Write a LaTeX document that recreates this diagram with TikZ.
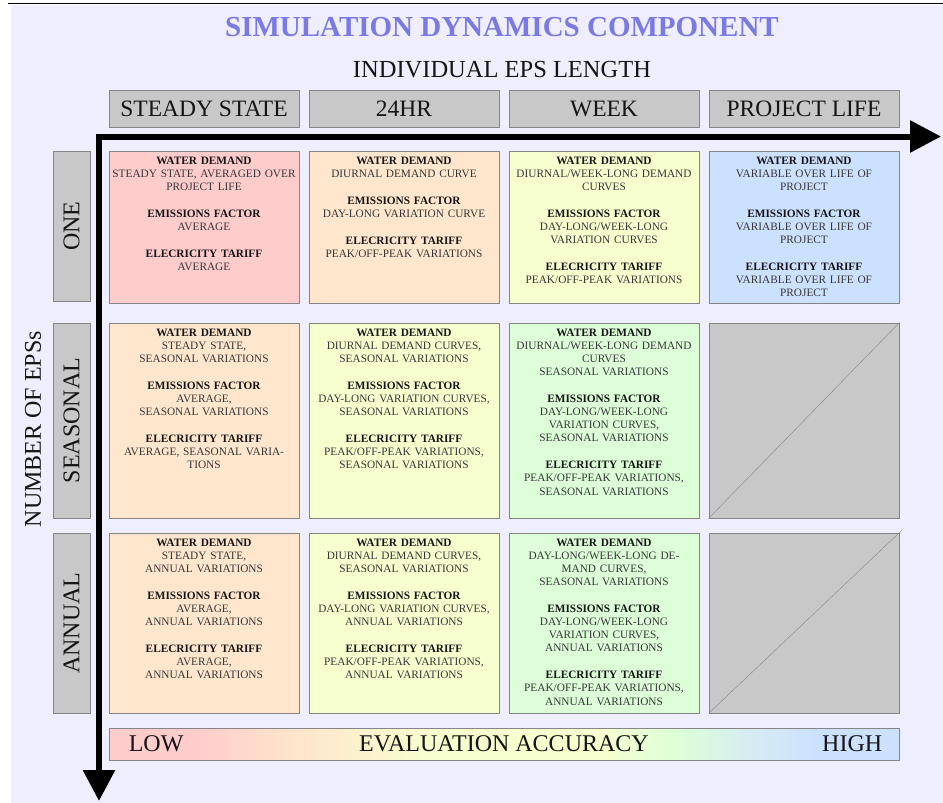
\documentclass[tikz,border=0pt]{standalone}
\usepackage{fontspec}
\setmainfont{Liberation Serif}
\usetikzlibrary{arrows.meta}

\definecolor{bgc}{HTML}{EEEEFF}
\definecolor{titlec}{HTML}{7A7AE2}
\definecolor{edgec}{HTML}{858585}
\definecolor{grayc}{HTML}{C8C8C8}
\definecolor{pinkc}{HTML}{FFCCCC}
\definecolor{peachc}{HTML}{FFE6CC}
\definecolor{yellowc}{HTML}{F8FFCF}
\definecolor{greenc}{HTML}{DCFFD8}
\definecolor{bluec}{HTML}{CCE0FF}
\definecolor{cyanc}{HTML}{D6ECF2}
\definecolor{bodyc}{HTML}{363636}
\definecolor{headc}{HTML}{151515}

% colour ramp of the accuracy bar (visible part runs from 25bp to 75bp)
\pgfdeclarehorizontalshading{accuracy}{100bp}{%
  color(0bp)=(pinkc); color(25bp)=(pinkc); color(30.5bp)=(pinkc); color(37bp)=(peachc);
  color(45.5bp)=(yellowc); color(56bp)=(yellowc); color(61bp)=(greenc);
  color(65.5bp)=(cyanc); color(70bp)=(bluec); color(75bp)=(bluec); color(100bp)=(bluec)}

\newcommand\hd[1]{\textbf{\textcolor{headc}{#1}}}

\tikzset{
  cellbox/.style={draw=edgec, line width=0.8pt, minimum width=190pt, inner sep=0pt},
  celltext/.style={anchor=north, inner sep=0pt, align=center, text width=190pt,
    font=\fontsize{11.3}{13.1}\selectfont, text=bodyc},
  hdrbox/.style={draw=edgec, line width=0.8pt, fill=grayc, minimum width=190pt,
    minimum height=37pt, inner sep=0pt, font=\fontsize{23.5}{26}\selectfont, text=headc},
  rowlbl/.style={draw=edgec, line width=0.8pt, fill=grayc, rotate=90,
    minimum height=37pt, inner sep=0pt, font=\fontsize{24}{26}\selectfont, text=headc},
  axisarrow/.style={line width=6pt, line cap=butt, -{Triangle[length=31pt,width=31pt]}},
  bigtext/.style={font=\fontsize{24}{26}\selectfont, text=headc, inner sep=0pt},
  blank/.style={draw=edgec, thin}
}

\begin{document}
\begin{tikzpicture}[x=1pt, y=-1pt]
  \useasboundingbox (0,0) rectangle (943,803);
  \fill[white] (0,0) rectangle (943,803);
  \fill[bgc] (11,4.5) rectangle (943,803);
  \draw[line width=1.5pt] (8,3.5) -- (943,3.5);

  % titles
  \node[font=\bfseries\fontsize{29}{32}\selectfont, text=titlec] (title) at (502,27) {SIMULATION DYNAMICS COMPONENT};
  \node[bigtext, font=\fontsize{24.5}{26}\selectfont] (sub) at (502,70) {INDIVIDUAL EPS LENGTH};

  % column headers
  \node[hdrbox] (h1) at (204,108.5) {STEADY STATE};
  \node[hdrbox] (h2) at (404,108.5) {24HR};
  \node[hdrbox] (h3) at (604,108.5) {WEEK};
  \node[hdrbox] (h4) at (804,108.5) {PROJECT LIFE};

  % axes
  \coordinate (xstart) at (96,136.5);
  \coordinate (xend) at (941,136.5);
  \coordinate (ystart) at (99,133.5);
  \coordinate (yend) at (99,801);
  \draw[axisarrow] (xstart) -- (xend);
  \draw[axisarrow] (ystart) -- (yend);

  % row labels
  \node[rowlbl, minimum width=150pt] (r1) at (71.5,226) {ONE};
  \node[rowlbl, minimum width=195pt] (r2) at (71.5,420.5) {SEASONAL};
  \node[rowlbl, minimum width=180pt] (r3) at (71.5,623) {ANNUAL};
  \node[bigtext, rotate=90] (ylabel) at (33,429) {NUMBER OF EPSs};

  % row ONE
  \node[cellbox, fill=pinkc,   minimum height=152pt] (c11) at (204,227) {};
  \node[cellbox, fill=peachc,  minimum height=152pt] (c12) at (404,227) {};
  \node[cellbox, fill=yellowc, minimum height=152pt] (c13) at (604,227) {};
  \node[cellbox, fill=bluec,   minimum height=152pt] (c14) at (804,227) {};

  % row SEASONAL
  \node[cellbox, fill=peachc,  minimum height=195pt] (c21) at (204,420.5) {};
  \node[cellbox, fill=yellowc, minimum height=195pt] (c22) at (404,420.5) {};
  \node[cellbox, fill=greenc,  minimum height=195pt] (c23) at (604,420.5) {};
  \node[cellbox, fill=grayc,   minimum height=195pt] (c24) at (804,420.5) {};

  % row ANNUAL
  \node[cellbox, fill=peachc,  minimum height=180pt] (c31) at (204,623) {};
  \node[cellbox, fill=yellowc, minimum height=180pt] (c32) at (404,623) {};
  \node[cellbox, fill=greenc,  minimum height=180pt] (c33) at (604,623) {};
  \node[cellbox, fill=grayc,   minimum height=180pt] (c34) at (804,623) {};

  % combinations that are not available
  \draw[blank] (c24.south west) -- (c24.north east);
  \draw[blank, shorten >=-4pt] (c34.south west) -- (c34.north east);

  % cell contents
  \node[celltext] (t11) at ([yshift=-5.8pt]c11.north) {%
    \hd{WATER DEMAND}\\ STEADY STATE, AVERAGED OVER\\ PROJECT LIFE\\[14pt]
    \hd{EMISSIONS FACTOR}\\ AVERAGE\\[14pt]
    \hd{ELECRICITY TARIFF}\\ AVERAGE};
  \node[celltext] (t12) at ([yshift=-5.8pt]c12.north) {%
    \hd{WATER DEMAND}\\ DIURNAL DEMAND CURVE\\[14pt]
    \hd{EMISSIONS FACTOR}\\ DAY-LONG VARIATION CURVE\\[14pt]
    \hd{ELECRICITY TARIFF}\\ PEAK/OFF-PEAK VARIATIONS};
  \node[celltext] (t13) at ([yshift=-5.8pt]c13.north) {%
    \hd{WATER DEMAND}\\ DIURNAL/WEEK-LONG DEMAND\\ CURVES\\[14pt]
    \hd{EMISSIONS FACTOR}\\ DAY-LONG/WEEK-LONG\\ VARIATION CURVES\\[14pt]
    \hd{ELECRICITY TARIFF}\\ PEAK/OFF-PEAK VARIATIONS};
  \node[celltext] (t14) at ([yshift=-5.8pt]c14.north) {%
    \hd{WATER DEMAND}\\ VARIABLE OVER LIFE OF\\ PROJECT\\[14pt]
    \hd{EMISSIONS FACTOR}\\ VARIABLE OVER LIFE OF\\ PROJECT\\[14pt]
    \hd{ELECRICITY TARIFF}\\ VARIABLE OVER LIFE OF\\ PROJECT};

  \node[celltext] (t21) at ([yshift=-5.8pt]c21.north) {%
    \hd{WATER DEMAND}\\ STEADY STATE,\\ SEASONAL VARIATIONS\\[14pt]
    \hd{EMISSIONS FACTOR}\\ AVERAGE,\\ SEASONAL VARIATIONS\\[14pt]
    \hd{ELECRICITY TARIFF}\\ AVERAGE, SEASONAL VARIA-\\ TIONS};
  \node[celltext] (t22) at ([yshift=-5.8pt]c22.north) {%
    \hd{WATER DEMAND}\\ DIURNAL DEMAND CURVES,\\ SEASONAL VARIATIONS\\[14pt]
    \hd{EMISSIONS FACTOR}\\ DAY-LONG VARIATION CURVES,\\ SEASONAL VARIATIONS\\[14pt]
    \hd{ELECRICITY TARIFF}\\ PEAK/OFF-PEAK VARIATIONS,\\ SEASONAL VARIATIONS};
  \node[celltext] (t23) at ([yshift=-5.8pt]c23.north) {%
    \hd{WATER DEMAND}\\ DIURNAL/WEEK-LONG DEMAND\\ CURVES\\ SEASONAL VARIATIONS\\[14pt]
    \hd{EMISSIONS FACTOR}\\ DAY-LONG/WEEK-LONG\\ VARIATION CURVES,\\ SEASONAL VARIATIONS\\[14pt]
    \hd{ELECRICITY TARIFF}\\ PEAK/OFF-PEAK VARIATIONS,\\ SEASONAL VARIATIONS};

  \node[celltext] (t31) at ([yshift=-5.8pt]c31.north) {%
    \hd{WATER DEMAND}\\ STEADY STATE,\\ ANNUAL VARIATIONS\\[14pt]
    \hd{EMISSIONS FACTOR}\\ AVERAGE,\\ ANNUAL VARIATIONS\\[14pt]
    \hd{ELECRICITY TARIFF}\\ AVERAGE,\\ ANNUAL VARIATIONS};
  \node[celltext] (t32) at ([yshift=-5.8pt]c32.north) {%
    \hd{WATER DEMAND}\\ DIURNAL DEMAND CURVES,\\ SEASONAL VARIATIONS\\[14pt]
    \hd{EMISSIONS FACTOR}\\ DAY-LONG VARIATION CURVES,\\ ANNUAL VARIATIONS\\[14pt]
    \hd{ELECRICITY TARIFF}\\ PEAK/OFF-PEAK VARIATIONS,\\ ANNUAL VARIATIONS};
  \node[celltext] (t33) at ([yshift=-5.8pt]c33.north) {%
    \hd{WATER DEMAND}\\ DAY-LONG/WEEK-LONG DE-\\ MAND CURVES,\\ SEASONAL VARIATIONS\\[14pt]
    \hd{EMISSIONS FACTOR}\\ DAY-LONG/WEEK-LONG\\ VARIATION CURVES,\\ ANNUAL VARIATIONS\\[14pt]
    \hd{ELECRICITY TARIFF}\\ PEAK/OFF-PEAK VARIATIONS,\\ ANNUAL VARIATIONS};

  % accuracy bar
  \node[draw=edgec, line width=0.8pt, shading=accuracy, minimum width=790pt,
        minimum height=32pt, inner sep=0pt] (bar) at (504,744) {};
  \node[bigtext, anchor=west] (low) at ([xshift=20pt]bar.west) {LOW};
  \node[bigtext] (acc) at (504,744) {EVALUATION ACCURACY};
  \node[bigtext, anchor=east] (high) at ([xshift=-17pt]bar.east) {HIGH};
\end{tikzpicture}
\end{document}
